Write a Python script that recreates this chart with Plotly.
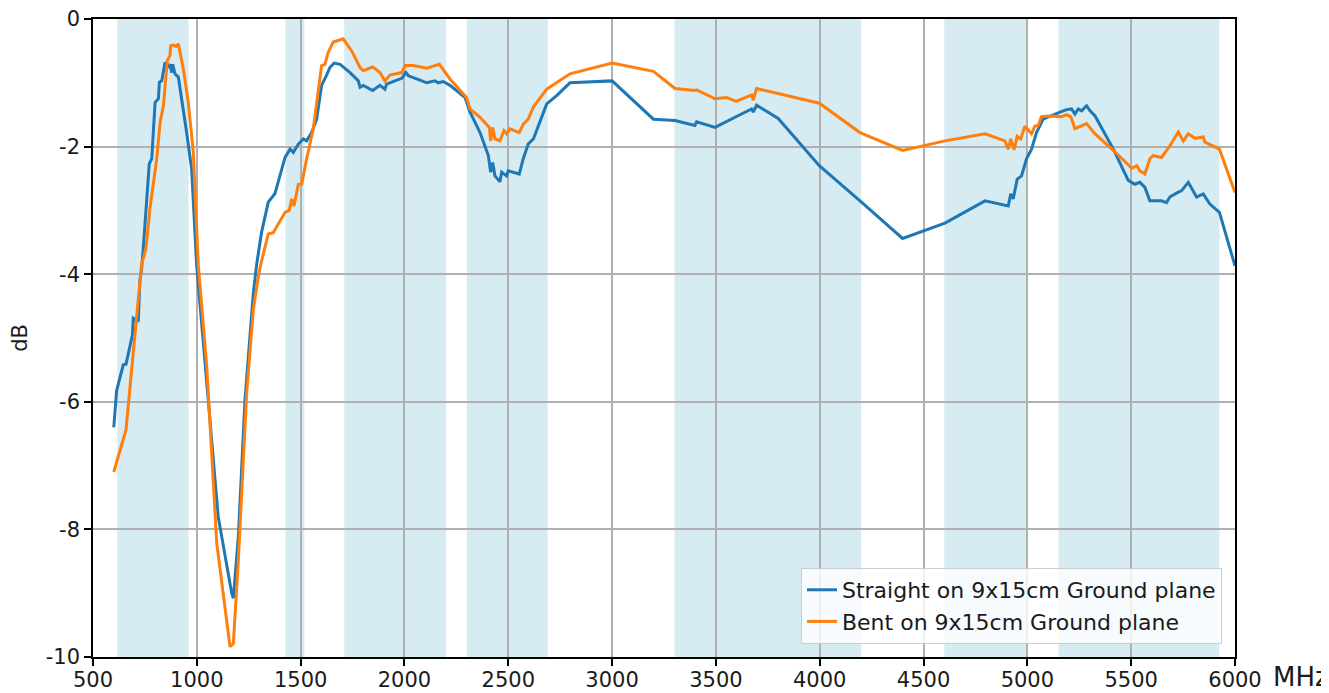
import plotly.graph_objects as go

straight_mhz = [600, 614, 646, 659, 690, 694, 718, 726, 734, 742, 771, 783, 799, 815, 820, 831, 847, 858, 871, 879, 884, 895, 911, 927, 951, 975, 999, 1055, 1103, 1168, 1176, 1200, 1232, 1272, 1288, 1312, 1344, 1376, 1425, 1449, 1465, 1489, 1513, 1529, 1553, 1577, 1601, 1625, 1641, 1661, 1690, 1738, 1778, 1786, 1802, 1847, 1882, 1906, 1914, 1954, 1987, 2007, 2019, 2059, 2107, 2147, 2163, 2187, 2219, 2292, 2316, 2364, 2404, 2415, 2425, 2436, 2452, 2460, 2468, 2492, 2500, 2524, 2553, 2572, 2596, 2621, 2645, 2685, 2733, 2797, 3000, 3199, 3303, 3399, 3407, 3496, 3592, 3672, 3680, 3696, 3800, 3998, 4194, 4399, 4603, 4796, 4908, 4920, 4932, 4951, 4972, 4996, 5020, 5044, 5076, 5109, 5157, 5189, 5213, 5229, 5245, 5261, 5285, 5302, 5326, 5414, 5486, 5518, 5542, 5566, 5590, 5622, 5646, 5670, 5686, 5718, 5743, 5775, 5815, 5847, 5879, 5925, 6000]
straight_db = [-6.4, -5.82, -5.42, -5.41, -4.95, -4.69, -4.74, -4.09, -3.92, -3.6, -2.27, -2.19, -1.31, -1.25, -0.99, -0.97, -0.68, -0.76, -0.71, -0.84, -0.71, -0.86, -0.91, -1.25, -1.78, -2.35, -3.85, -5.97, -7.80, -9.0, -9.08, -8.11, -5.97, -4.3, -3.85, -3.34, -2.87, -2.74, -2.17, -2.04, -2.09, -1.96, -1.88, -1.91, -1.78, -1.57, -1.04, -0.88, -0.76, -0.69, -0.71, -0.84, -0.97, -1.07, -1.04, -1.12, -1.04, -1.10, -1.02, -0.97, -0.93, -0.84, -0.89, -0.94, -1.0, -0.97, -1.0, -0.98, -1.04, -1.23, -1.46, -1.78, -2.14, -2.40, -2.25, -2.46, -2.51, -2.55, -2.40, -2.46, -2.38, -2.40, -2.43, -2.19, -1.96, -1.88, -1.67, -1.33, -1.20, -1.0, -0.97, -1.57, -1.59, -1.67, -1.61, -1.70, -1.54, -1.41, -1.46, -1.35, -1.56, -2.30, -2.85, -3.44, -3.20, -2.85, -2.93, -2.74, -2.82, -2.51, -2.46, -2.19, -2.04, -1.78, -1.57, -1.52, -1.46, -1.42, -1.41, -1.49, -1.41, -1.44, -1.36, -1.44, -1.52, -2.04, -2.53, -2.59, -2.56, -2.64, -2.85, -2.85, -2.85, -2.88, -2.79, -2.73, -2.69, -2.56, -2.79, -2.74, -2.90, -3.03, -3.87]

bent_mhz = [600, 622, 659, 686, 726, 734, 755, 775, 807, 823, 839, 847, 858, 871, 874, 887, 900, 911, 935, 959, 983, 1007, 1048, 1096, 1160, 1176, 1200, 1240, 1272, 1296, 1310, 1344, 1368, 1425, 1445, 1457, 1468, 1489, 1505, 1529, 1561, 1601, 1617, 1633, 1657, 1705, 1746, 1786, 1802, 1847, 1882, 1906, 1930, 1987, 2003, 2043, 2107, 2168, 2219, 2299, 2316, 2364, 2409, 2415, 2425, 2436, 2460, 2479, 2492, 2508, 2553, 2572, 2596, 2621, 2685, 2797, 3000, 3199, 3303, 3399, 3407, 3496, 3552, 3597, 3672, 3680, 3696, 3998, 4194, 4399, 4603, 4796, 4892, 4908, 4920, 4936, 4951, 4968, 4988, 5020, 5036, 5052, 5068, 5109, 5165, 5189, 5209, 5229, 5261, 5285, 5326, 5414, 5503, 5527, 5542, 5566, 5590, 5606, 5646, 5686, 5727, 5751, 5775, 5807, 5847, 5855, 5925, 6000]
bent_db = [-7.10, -6.86, -6.44, -5.50, -4.20, -3.85, -3.6, -2.95, -2.19, -1.62, -1.36, -1.02, -0.65, -0.57, -0.42, -0.41, -0.43, -0.39, -0.78, -1.31, -2.09, -3.85, -5.45, -8.22, -9.84, -9.79, -8.48, -5.87, -4.56, -4.04, -3.82, -3.37, -3.35, -3.03, -3.0, -2.82, -2.93, -2.59, -2.59, -2.19, -1.72, -0.73, -0.71, -0.52, -0.36, -0.31, -0.50, -0.76, -0.81, -0.75, -0.84, -0.97, -0.88, -0.84, -0.73, -0.73, -0.77, -0.71, -0.94, -1.23, -1.41, -1.54, -1.70, -1.91, -1.70, -1.88, -1.91, -1.75, -1.80, -1.72, -1.78, -1.65, -1.57, -1.38, -1.10, -0.86, -0.69, -0.82, -1.09, -1.12, -1.11, -1.25, -1.23, -1.29, -1.19, -1.27, -1.09, -1.32, -1.78, -2.06, -1.91, -1.80, -1.91, -2.04, -1.88, -2.05, -1.84, -1.88, -1.68, -1.80, -1.68, -1.67, -1.53, -1.52, -1.53, -1.50, -1.53, -1.72, -1.67, -1.64, -1.80, -2.06, -2.34, -2.30, -2.38, -2.43, -2.19, -2.14, -2.17, -1.99, -1.77, -1.91, -1.80, -1.87, -1.85, -1.93, -2.04, -2.72]

band_start = [617, 1427, 1710, 2300, 3300, 4600, 5150]
band_end = [960, 1518, 2200, 2690, 4200, 5000, 5925]

x_ticks = [500, 1000, 1500, 2000, 2500, 3000, 3500, 4000, 4500, 5000, 5500, 6000]
y_ticks = [0, -2, -4, -6, -8, -10]
y_tick_text = ["0", "-2", "-4", "-6", "-8", "-10"]

FONT = "DejaVu Sans"
FS = 21
TXT = "#1a1a1a"

fig = go.Figure()
fig.add_trace(go.Scatter(x=straight_mhz, y=straight_db, mode="lines",
                         name="Straight on 9x15cm Ground plane",
                         line=dict(color="#1f77b4", width=3)))
fig.add_trace(go.Scatter(x=bent_mhz, y=bent_db, mode="lines",
                         name="Bent on 9x15cm Ground plane",
                         line=dict(color="#ff7f0e", width=3)))

for s, e in zip(band_start, band_end):
    fig.add_vrect(x0=s, x1=e, fillcolor="rgba(173,216,230,0.5)", line_width=0, layer="below")

axis_common = dict(showline=True, linecolor="black", linewidth=1.5, mirror=True,
                   ticks="outside", ticklen=7, tickwidth=1.5, tickcolor="black",
                   showgrid=True, gridcolor="#b0b0b0", gridwidth=1.5, zeroline=False,
                   automargin=False, ticklabeloverflow="allow",
                   tickfont=dict(family=FONT, size=FS, color=TXT))

fig.update_xaxes(range=[500, 6000], tickvals=x_ticks, ticklabelstandoff=-4, **axis_common)
fig.update_yaxes(range=[-10, 0], tickvals=y_ticks, ticktext=y_tick_text,
                 title=dict(text="dB", font=dict(family=FONT, size=FS, color=TXT), standoff=18),
                 **axis_common)

fig.add_annotation(text="MHz", xref="paper", yref="paper", x=1.0315, y=-0.031,
                   xanchor="left", yanchor="middle", showarrow=False,
                   font=dict(family=FONT, size=26, color=TXT))

fig.update_layout(
    width=1321, height=685,
    margin=dict(l=85, r=94, t=11, b=36),
    plot_bgcolor="white", paper_bgcolor="white",
    font=dict(family=FONT, size=FS, color=TXT),
    legend=dict(x=0.9886, y=0.0204, xanchor="right", yanchor="bottom",
                bgcolor="rgba(255,255,255,0.8)", bordercolor="#cccccc", borderwidth=1,
                font=dict(family=FONT, size=22, color=TXT)),
    showlegend=True,
)

fig.write_html("out.html")
